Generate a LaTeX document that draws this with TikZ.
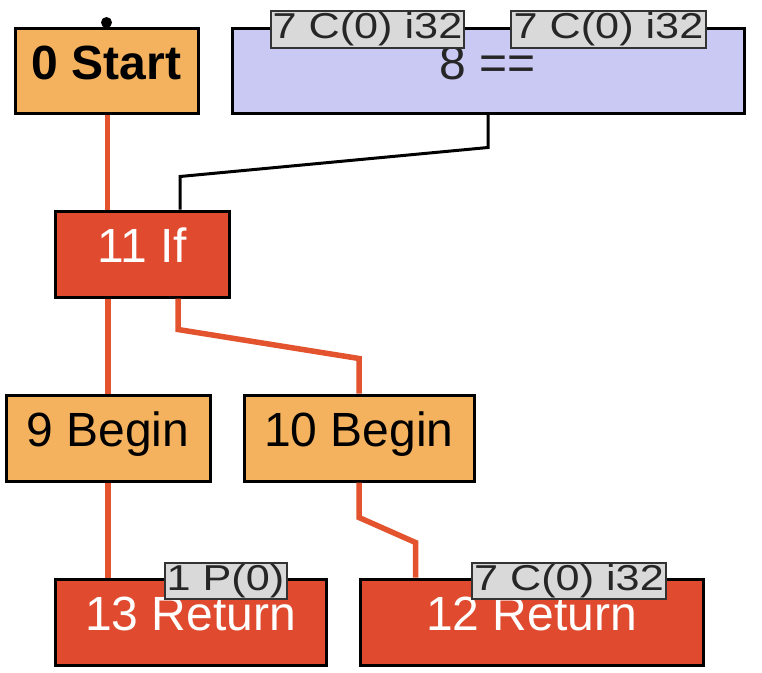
\documentclass[tikz,border=0pt]{standalone}
\usepackage{fontspec}
\setmainfont{Liberation Sans}
\usetikzlibrary{calc}
\definecolor{nodeorange}{HTML}{F4B25E}
\definecolor{nodered}{HTML}{E04B2F}
\definecolor{nodelav}{HTML}{C9C9F4}
\definecolor{labgray}{HTML}{D9D9D9}
\definecolor{edgered}{HTML}{E2532E}
\tikzset{
  box/.style={draw=black, line width=3pt, inner sep=0pt, text height=34.4pt, text depth=17pt,
    font=\fontsize{48}{48}\selectfont},
  orangebox/.style={box, fill=nodeorange, text=black},
  redbox/.style={box, fill=nodered, text=white},
  lavbox/.style={box, fill=nodelav, text=black!85},
  tagbox/.style={draw=black!80, line width=2pt, fill=labgray, inner sep=0pt, text=black!85,
    text height=25.8pt, text depth=7pt, font=\fontsize{36}{36}\selectfont},
  ctrl/.style={draw=edgered, line width=5.5pt},
  dataedge/.style={draw=black, line width=3pt}
}
\newcommand{\wide}[1]{\scalebox{1.2}[1]{#1}}
\begin{document}
\begin{tikzpicture}[x=1pt,y=-1pt]
\useasboundingbox (0,0) rectangle (762,672);
% nodes
\node[orangebox, minimum width=183pt, minimum height=85pt] (start) at (106.5,70.5) {\bfseries 0 Start};
\node[lavbox, minimum width=512pt, minimum height=85pt] (eq) at (488,70.5) {8 ==};
\node[redbox, minimum width=174pt, minimum height=86pt] (if) at (142,254) {11 If};
\node[orangebox, minimum width=204pt, minimum height=86pt] (b9) at (108,438) {9 Begin};
\node[orangebox, minimum width=230pt, minimum height=86pt] (b10) at (359,438) {10 Begin};
\node[redbox, minimum width=271pt, minimum height=86pt] (r13) at (190.5,622) {13 Return};
\node[redbox, minimum width=343pt, minimum height=86pt] (r12) at (531.5,622) {12 Return};
% tags
\node[tagbox, minimum width=193pt, minimum height=37pt] (t1) at (367.5,29.5) {\wide{7 C(0) i32}};
\node[tagbox, minimum width=195pt, minimum height=37pt] (t2) at (608.5,29.5) {\wide{7 C(0) i32}};
\node[tagbox, minimum width=122pt, minimum height=36pt] (t3) at (225.5,581) {\wide{1 P(0)}};
\node[tagbox, minimum width=194pt, minimum height=36pt] (t4) at (569,581) {\wide{7 C(0) i32}};
% start dot
\fill[black] ($(start.north)+(0,-4)$) circle (5.5pt);
% data edge
\draw[dataedge] (eq.south) -- ++(0,33) -- ($(if.north)+(38,-33)$) -- ($(if.north)+(38,0)$);
% control edges
\draw[ctrl] ($(start.south)+(1,0)$) -- ($(start.south |- if.north)+(1,0)$);
\draw[ctrl] (b9.north |- if.south) -- (b9.north);
\draw[ctrl] (b9.south) -- (b9.south |- r13.north);
\draw[ctrl] ($(if.south)+(36,0)$) -- ++(0,31) -- ($(b10.north)+(0,-35)$) -- (b10.north);
\draw[ctrl] (b10.south) -- ++(0,35) -- ($(r12.north)+(-116,-35)$) -- ($(r12.north)+(-116,0)$);
\end{tikzpicture}
\end{document}
